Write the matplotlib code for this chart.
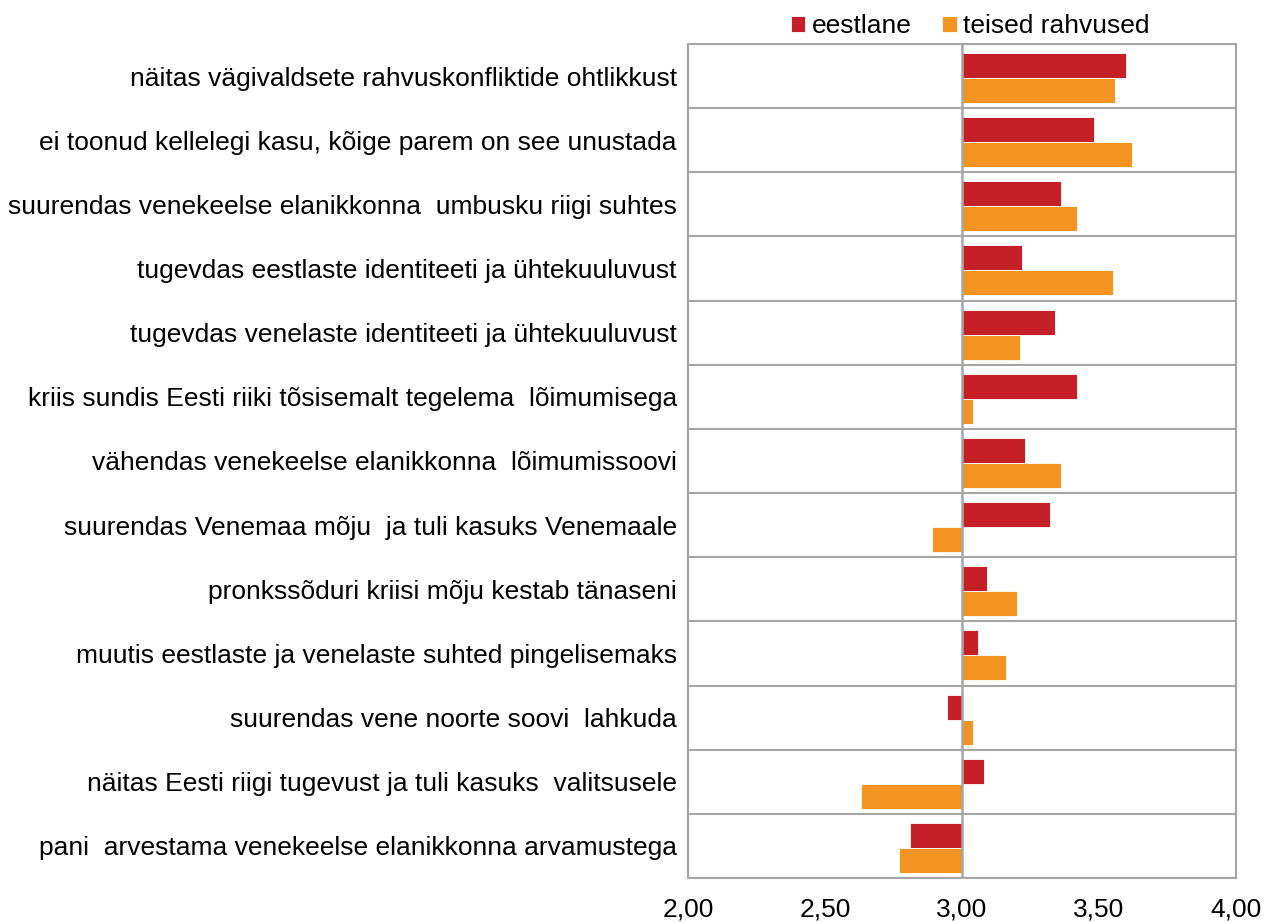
import numpy as np
import matplotlib
matplotlib.use('Agg')
import matplotlib.pyplot as plt
from matplotlib.ticker import FuncFormatter

plt.rcParams['font.family'] = ['Liberation Sans', 'DejaVu Sans']

categories = [
    "näitas vägivaldsete rahvuskonfliktide ohtlikkust",
    "ei toonud kellelegi kasu, kõige parem on see unustada",
    "suurendas venekeelse elanikkonna  umbusku riigi suhtes",
    "tugevdas eestlaste identiteeti ja ühtekuuluvust",
    "tugevdas venelaste identiteeti ja ühtekuuluvust",
    "kriis sundis Eesti riiki tõsisemalt tegelema  lõimumisega",
    "vähendas venekeelse elanikkonna  lõimumissoovi",
    "suurendas Venemaa mõju  ja tuli kasuks Venemaale",
    "pronkssõduri kriisi mõju kestab tänaseni",
    "muutis eestlaste ja venelaste suhted pingelisemaks",
    "suurendas vene noorte soovi  lahkuda",
    "näitas Eesti riigi tugevust ja tuli kasuks  valitsusele",
    "pani  arvestama venekeelse elanikkonna arvamustega",
]
eestlane = [3.60, 3.48, 3.36, 3.22, 3.34, 3.42, 3.23, 3.32, 3.09, 3.06, 2.945, 3.08, 2.81]
teised = [3.56, 3.62, 3.42, 3.55, 3.21, 3.04, 3.36, 2.89, 3.20, 3.16, 3.04, 2.63, 2.77]
series_names = ["eestlane", "teised rahvused"]
base = 3.0

red = '#C5202A'
orange = '#F39322'
grid_col = '#A6A6A6'

fig = plt.figure(figsize=(12.76, 9.22), dpi=100)
ax = fig.add_axes([688/1276, 1 - 878/922, (1236 - 688)/1276, (878 - 44)/922])

n = len(categories)
y = np.arange(n) + 0.03
h = 0.39
ax.barh(y - h/2, np.array(eestlane) - base, left=base, height=h, color=red,
        edgecolor='white', linewidth=0.6, label=series_names[0], zorder=3)
ax.barh(y + h/2, np.array(teised) - base, left=base, height=h, color=orange,
        edgecolor='white', linewidth=0.6, label=series_names[1], zorder=3)

ax.set_xlim(2, 4)
ax.set_ylim(n - 0.5, -0.5)
ax.set_xticks([2.0, 2.5, 3.0, 3.5, 4.0])
ax.xaxis.set_major_formatter(FuncFormatter(lambda v, p: f"{v:.2f}".replace('.', ',')))
ax.set_yticks(np.arange(n))
ax.set_yticklabels(categories)
ax.tick_params(axis='both', length=0, labelsize=19, colors='black')
ax.tick_params(axis='y', pad=8)
ax.tick_params(axis='x', pad=14)

# category separators
for b in np.arange(n + 1) - 0.5:
    ax.axhline(b, color=grid_col, linewidth=1.5, zorder=1)
ax.axvline(base, color=grid_col, linewidth=1.8, zorder=4)

for s in ax.spines.values():
    s.set_color(grid_col)
    s.set_linewidth(1.5)

ax.legend(loc='lower center', bbox_to_anchor=(0.515, 0.993), ncol=2, frameon=False,
          fontsize=19, handlelength=0.55, handleheight=0.55, handletextpad=0.25,
          columnspacing=1.15, borderaxespad=0.05)

fig.savefig('out.png', dpi=100)
